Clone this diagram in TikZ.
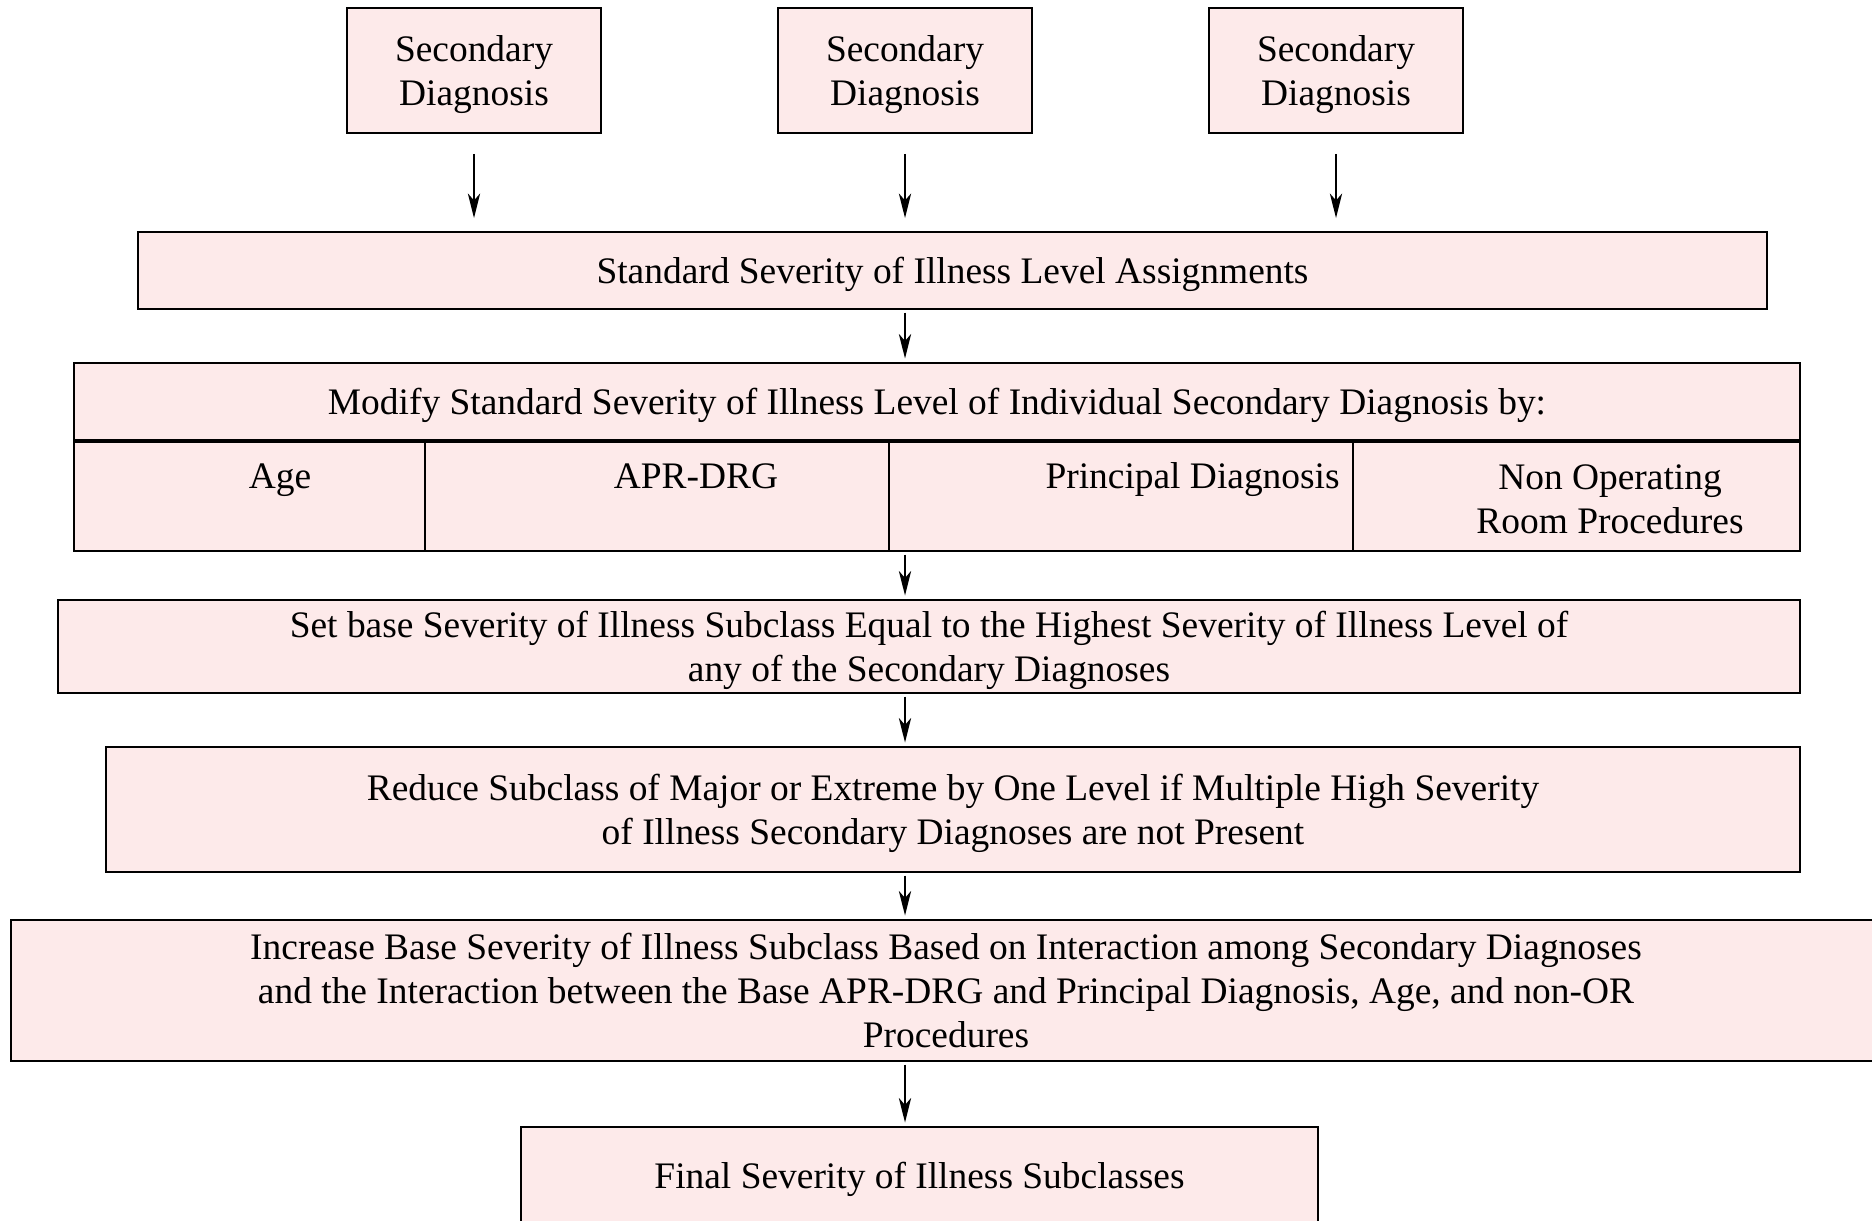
\documentclass[tikz,border=0pt]{standalone}
\usepackage{fontspec}
\setmainfont{Liberation Serif}
\usetikzlibrary{arrows.meta}
\definecolor{boxpink}{RGB}{253,234,234}
\begin{document}
\begin{tikzpicture}[x=0.02cm,y=-0.02cm,
  box/.style={draw=black,fill=boxpink,line width=1.1pt,inner sep=0pt,align=center,text depth=-5pt,font=\fontsize{21.3}{25}\selectfont},
  lab/.style={inner sep=0pt,align=center,font=\fontsize{21.3}{25}\selectfont},
  flow/.style={-{Stealth[length=14pt,width=7pt,inset=4pt]},line width=1.1pt,shorten <=1.5pt,shorten >=2pt}]
\def\px{0.02cm}
\useasboundingbox (0,0) rectangle (1872,1220);
% secondary diagnoses
\foreach \cx [count=\i] in {474,905,1336} {
  \node[box,minimum width=254*\px,minimum height=125*\px] (sd\i) at (\cx,70.5) {Secondary\\Diagnosis};
}
\node[box,minimum width=1629*\px,minimum height=77*\px] (std) at (952.5,270.5) {Standard Severity of Illness Level Assignments};
\foreach \i in {1,2,3} { \draw[flow,shorten <=0.4cm,shorten >=0.26cm] (sd\i) -- (sd\i |- std.north); }
% modifiers
\node[box,minimum width=1726*\px,minimum height=77*\px] (mod) at (937,401.5) {Modify Standard Severity of Illness Level of Individual Secondary Diagnosis by:};
\foreach \cx/\cw [count=\i] in {249.5/351,657/464,1121/464,1576.5/447} {
  \node[box,minimum width=\cw*\px,minimum height=109*\px] (cell\i) at (\cx,496.5) {};
}
\node[lab,anchor=base] (age) at (280,488) {Age};
\node[lab,anchor=base] (drg) at (696,488) {APR-DRG};
\node[lab,anchor=base east] (pdx) at (1340,488) {Principal Diagnosis};
\node[lab] (nor) at (1610,499.5) {Non Operating\\Room Procedures};
\draw[flow] (sd2 |- std.south) -- (sd2 |- mod.north);
% subclass steps
\node[box,minimum width=1742*\px,minimum height=93*\px] (set) at (929,646.5) {Set base Severity of Illness Subclass Equal to the Highest Severity of Illness Level of\\any of the Secondary Diagnoses};
\node[box,minimum width=1694*\px,minimum height=125*\px] (red) at (953,809.5) {Reduce Subclass of Major or Extreme by One Level if Multiple High Severity\\of Illness Secondary Diagnoses are not Present};
\node[box,minimum width=1870*\px,minimum height=141*\px] (inc) at (946,990.5) {Increase Base Severity of Illness Subclass Based on Interaction among Secondary Diagnoses\\and the Interaction between the Base APR-DRG and Principal Diagnosis, Age, and non-OR\\Procedures};
\node[box,minimum width=797*\px,minimum height=96*\px] (fin) at (919.5,1175) {Final Severity of Illness Subclasses};
\draw[flow] (sd2 |- cell3.south) -- (sd2 |- set.north);
\draw[flow] (sd2 |- set.south) -- (sd2 |- red.north);
\draw[flow] (sd2 |- red.south) -- (sd2 |- inc.north);
\draw[flow] (sd2 |- inc.south) -- (sd2 |- fin.north);
\end{tikzpicture}
\end{document}
